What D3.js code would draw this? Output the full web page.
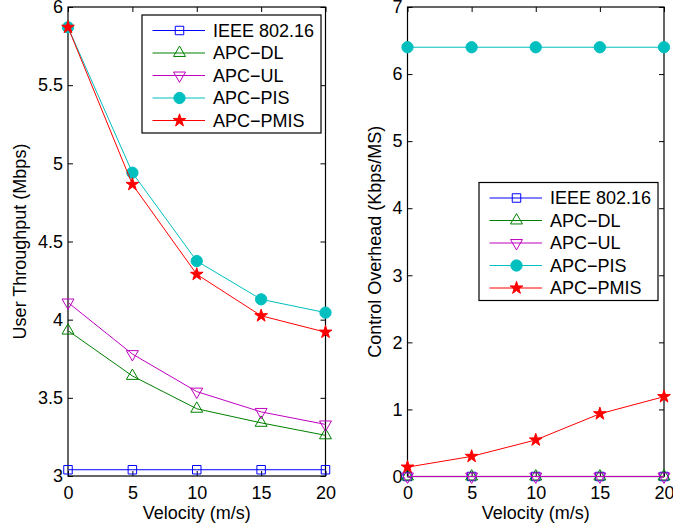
<!DOCTYPE html>
<html>
<head>
<meta charset="utf-8">
<script src="https://cdn.jsdelivr.net/npm/d3@7"></script>
<style>
  body { margin: 0; background: #fff; }
  svg text { font-family: "Liberation Sans", Arial, sans-serif; fill: #000; }
</style>
</head>
<body>
<div id="chart-container"></div>
<script>
// Data
const velocity = [0, 5, 10, 15, 20];
const velocityTicks = [0, 5, 10, 15, 20];
const seriesNames = ["IEEE 802.16", "APC\u2212DL", "APC\u2212UL", "APC\u2212PIS", "APC\u2212PMIS"];

// left panel: user throughput (Mbps)
const thrIEEE = [3.04, 3.04, 3.04, 3.04, 3.04];
const thrDL   = [3.93, 3.64, 3.43, 3.34, 3.26];
const thrUL   = [4.11, 3.78, 3.54, 3.41, 3.33];
const thrPIS  = [5.87, 4.94, 4.375, 4.13, 4.045];
const thrPMIS = [5.87, 4.865, 4.29, 4.025, 3.92];
const throughputTicks = [3, 3.5, 4, 4.5, 5, 5.5, 6];

// right panel: control overhead (Kbps/MS)
const ovhIEEE = [0, 0, 0, 0, 0];
const ovhDL   = [0, 0, 0, 0, 0];
const ovhUL   = [0, 0, 0, 0, 0];
const ovhPIS  = [6.4, 6.4, 6.4, 6.4, 6.4];
const ovhPMIS = [0.14, 0.30, 0.545, 0.935, 1.19];
const overheadTicks = [0, 1, 2, 3, 4, 5, 6, 7];

// Styles per series
const colors = ["#0000ff", "#008000", "#bf00bf", "#00bfbf", "#ff0000"];
const markers = [
  { type: d3.symbolSquare, size: 72, fill: false, rot: 0 },
  { type: d3.symbolTriangle, size: 62, fill: false, rot: 0 },
  { type: d3.symbolTriangle, size: 62, fill: false, rot: 180 },
  { type: d3.symbolCircle, size: 100, fill: true, rot: 0 },
  { type: d3.symbolStar, size: 50, fill: true, rot: 0 }
];

const svg = d3.select("#chart-container")
  .append("svg")
  .attr("width", 673)
  .attr("height", 531);

function drawMarker(g, i, x, y) {
  const m = markers[i];
  g.append("path")
    .attr("d", d3.symbol().type(m.type).size(m.size)())
    .attr("transform", "translate(" + x + "," + y + ") rotate(" + m.rot + ")")
    .attr("fill", m.fill ? colors[i] : "none")
    .attr("stroke", colors[i])
    .attr("stroke-width", 1);
}

function drawPanel(p) {
  const x = d3.scaleLinear().domain([0, 20]).range([p.left, p.right]);
  const y = d3.scaleLinear().domain(p.yDomain).range([p.bottom, p.top]);
  const g = svg.append("g");

  // ticks (inside, MATLAB style)
  g.append("g")
    .attr("transform", "translate(0," + p.bottom + ")")
    .call(d3.axisBottom(x).tickValues(velocityTicks).tickSize(-5).tickSizeOuter(0).tickPadding(10).tickFormat(d3.format("")))
    .call(a => a.select(".domain").remove());
  g.append("g")
    .attr("transform", "translate(0," + p.top + ")")
    .call(d3.axisTop(x).tickValues(velocityTicks).tickSize(-5).tickSizeOuter(0).tickFormat(""))
    .call(a => a.select(".domain").remove());
  g.append("g")
    .attr("transform", "translate(" + p.left + ",0)")
    .call(d3.axisLeft(y).tickValues(p.yTicks).tickSize(-5).tickSizeOuter(0).tickPadding(5).tickFormat(d3.format("")))
    .call(a => a.select(".domain").remove());
  g.append("g")
    .attr("transform", "translate(" + p.right + ",0)")
    .call(d3.axisRight(y).tickValues(p.yTicks).tickSize(-5).tickSizeOuter(0).tickFormat(""))
    .call(a => a.select(".domain").remove());

  g.selectAll(".tick text")
    .attr("font-size", 18)
    .attr("font-family", "Liberation Sans, Arial, sans-serif");
  g.selectAll(".tick line").attr("stroke", "#000");

  // axes box
  g.append("rect")
    .attr("x", p.left).attr("y", p.top)
    .attr("width", p.right - p.left).attr("height", p.bottom - p.top)
    .attr("fill", "none").attr("stroke", "#000").attr("stroke-width", 1.2);

  // series
  const line = d3.line().x((d, i) => x(velocity[i])).y(d => y(d));
  p.series.forEach((vals, si) => {
    g.append("path")
      .datum(vals)
      .attr("d", line)
      .attr("fill", "none")
      .attr("stroke", colors[si])
      .attr("stroke-width", 1);
    vals.forEach((v, i) => drawMarker(g, si, x(velocity[i]), y(v)));
  });

  // axis labels
  g.append("text")
    .attr("x", (p.left + p.right) / 2)
    .attr("y", 519)
    .attr("text-anchor", "middle")
    .attr("font-size", 18)
    .text("Velocity (m/s)");
  g.append("text")
    .attr("transform", "translate(" + p.yLabelX + "," + (p.top + p.bottom) / 2 + ") rotate(-90)")
    .attr("text-anchor", "middle")
    .attr("font-size", 18)
    .text(p.yLabel);

  // legend
  const lg = g.append("g").attr("transform", "translate(" + p.legendX + "," + p.legendY + ")");
  lg.append("rect")
    .attr("width", 179).attr("height", 118)
    .attr("fill", "#fff").attr("stroke", "#000").attr("stroke-width", 1.2);
  seriesNames.forEach((name, i) => {
    const ry = 15.5 + i * 22.5;
    lg.append("line")
      .attr("x1", 10.5).attr("x2", 63).attr("y1", ry).attr("y2", ry)
      .attr("stroke", colors[i]).attr("stroke-width", 1);
    drawMarker(lg, i, 37.5, ry);
    lg.append("text")
      .attr("x", 71).attr("y", ry).attr("dy", "0.36em")
      .attr("font-size", 18)
      .text(name);
  });
}

drawPanel({
  left: 68, right: 325.5, top: 7, bottom: 476,
  yDomain: [3, 6], yTicks: throughputTicks,
  series: [thrIEEE, thrDL, thrUL, thrPIS, thrPMIS],
  yLabel: "User Throughput (Mbps)", yLabelX: 26,
  legendX: 142, legendY: 15
});

drawPanel({
  left: 407.5, right: 664, top: 7, bottom: 476.5,
  yDomain: [0, 7], yTicks: overheadTicks,
  series: [ovhIEEE, ovhDL, ovhUL, ovhPIS, ovhPMIS],
  yLabel: "Control Overhead (Kbps/MS)", yLabelX: 381,
  legendX: 479, legendY: 182.5
});
</script>
</body>
</html>
